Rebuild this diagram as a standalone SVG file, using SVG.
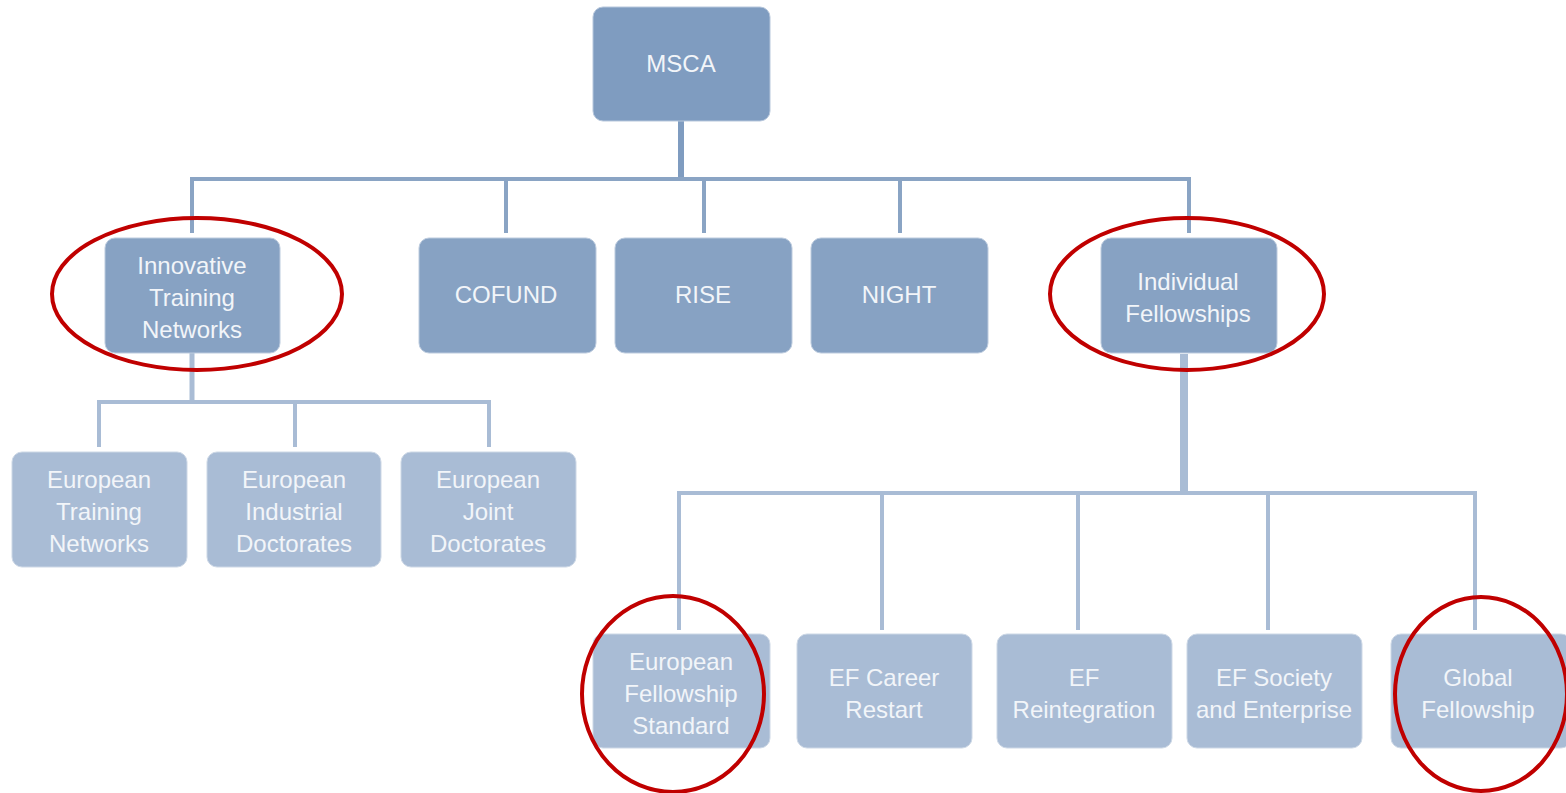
<svg xmlns="http://www.w3.org/2000/svg" width="1566" height="793" viewBox="0 0 1566 793">
<style>
.b1{fill:#7f9cc0;stroke:#b7c7dc;stroke-width:1}
.b2{fill:#87a2c3;stroke:#bccbde;stroke-width:1}
.b3{fill:#a9bcd5;stroke:#cdd8e6;stroke-width:1}
.t{font-family:"Liberation Sans",Arial,sans-serif;font-size:24px;fill:#f2f5f9;text-anchor:middle}
.c1{stroke:#8aa4c4;stroke-width:4;fill:none}
.c2{stroke:#a9bcd5;stroke-width:4;fill:none}
.ring{fill:none;stroke:#c00000;stroke-width:4}
</style>
<rect width="1566" height="793" fill="#ffffff"/>
<g id="connectors">
<line x1="681" y1="121" x2="681" y2="180" stroke="#7f9cc0" stroke-width="6"/>
<path class="c1" d="M192 233 V179 H1189 V233 M506 179 V233 M704 179 V233 M900 179 V233"/>
<line x1="192" y1="353" x2="192" y2="403" stroke="#a9bcd5" stroke-width="5"/>
<path class="c2" d="M99 447 V402 H489 V447 M295 402 V447"/>
<line x1="1184" y1="354" x2="1184" y2="494" stroke="#a9bcd5" stroke-width="8"/>
<path class="c2" d="M679 630 V493 H1475 V630 M882 493 V630 M1078 493 V630 M1268 493 V630"/>
</g>
<g id="msca"><rect class="b1" x="593" y="7" width="177" height="114" rx="10"/><text class="t" x="681" y="72">MSCA</text></g>
<g id="itn"><rect class="b2" x="105" y="238" width="175" height="115" rx="10"/><text class="t" x="192" y="274">Innovative</text><text class="t" x="192" y="306">Training</text><text class="t" x="192" y="338">Networks</text></g>
<g id="cofund"><rect class="b2" x="419" y="238" width="177" height="115" rx="10"/><text class="t" x="506" y="303">COFUND</text></g>
<g id="rise"><rect class="b2" x="615" y="238" width="177" height="115" rx="10"/><text class="t" x="703" y="303">RISE</text></g>
<g id="night"><rect class="b2" x="811" y="238" width="177" height="115" rx="10"/><text class="t" x="899" y="303">NIGHT</text></g>
<g id="if"><rect class="b2" x="1101" y="238" width="176" height="115" rx="10"/><text class="t" x="1188" y="290">Individual</text><text class="t" x="1188" y="322">Fellowships</text></g>
<g id="etn"><rect class="b3" x="12" y="452" width="175" height="115" rx="10"/><text class="t" x="99" y="488">European</text><text class="t" x="99" y="520">Training</text><text class="t" x="99" y="552">Networks</text></g>
<g id="eid"><rect class="b3" x="207" y="452" width="174" height="115" rx="10"/><text class="t" x="294" y="488">European</text><text class="t" x="294" y="520">Industrial</text><text class="t" x="294" y="552">Doctorates</text></g>
<g id="ejd"><rect class="b3" x="401" y="452" width="175" height="115" rx="10"/><text class="t" x="488" y="488">European</text><text class="t" x="488" y="520">Joint</text><text class="t" x="488" y="552">Doctorates</text></g>
<g id="efs"><rect class="b3" x="593" y="634" width="177" height="114" rx="10"/><text class="t" x="681" y="670">European</text><text class="t" x="681" y="702">Fellowship</text><text class="t" x="681" y="734">Standard</text></g>
<g id="efcr"><rect class="b3" x="797" y="634" width="175" height="114" rx="10"/><text class="t" x="884" y="686">EF Career</text><text class="t" x="884" y="718">Restart</text></g>
<g id="efr"><rect class="b3" x="997" y="634" width="175" height="114" rx="10"/><text class="t" x="1084" y="686">EF</text><text class="t" x="1084" y="718">Reintegration</text></g>
<g id="efse"><rect class="b3" x="1187" y="634" width="175" height="114" rx="10"/><text class="t" x="1274" y="686">EF Society</text><text class="t" x="1274" y="718">and Enterprise</text></g>
<g id="gf"><rect class="b3" x="1391" y="634" width="180" height="114" rx="10"/><text class="t" x="1478" y="686">Global</text><text class="t" x="1478" y="718">Fellowship</text></g>
<g id="highlights">
<ellipse class="ring" cx="197" cy="294" rx="145" ry="76"/>
<ellipse class="ring" cx="1187" cy="294" rx="137" ry="76"/>
<ellipse class="ring" cx="673" cy="694" rx="91" ry="98"/>
<ellipse class="ring" cx="1481" cy="694" rx="86" ry="97"/>
</g>
</svg>
